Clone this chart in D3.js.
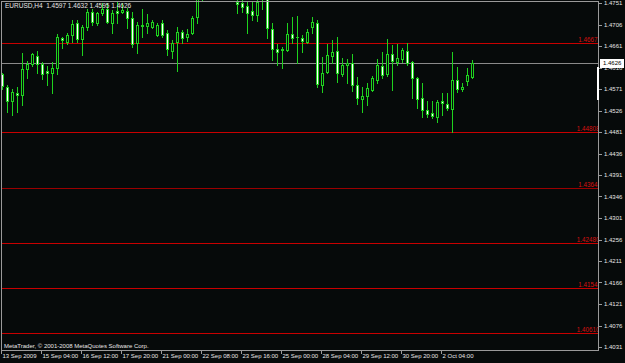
<!DOCTYPE html>
<html>
<head>
<meta charset="utf-8">
<script src="https://cdn.jsdelivr.net/npm/d3@7"></script>
<style>
  html, body { margin: 0; padding: 0; background: #060a0a; }
  svg { display: block; }
</style>
</head>
<body>
<svg id="chart"></svg>
<script>
// EURUSD H4 candles
var opens = [1.4602,1.4575,1.4546,1.4563,1.4559,1.4613,1.4623,1.4640,1.4623,1.4609,
  1.4605,1.4615,1.4678,1.4669,1.4684,1.4709,1.4676,1.4701,1.4732,1.4709,
  1.4730,1.4738,1.4709,1.4734,1.4732,1.4734,1.4720,1.4667,1.4704,1.4703,
  1.4701,1.4684,1.4709,1.4688,1.4651,1.4669,1.4690,1.4680,1.4688,1.4722,
  1.4762,1.4778,1.4789,1.4781,1.4772,1.4784,1.4776,1.4753,1.4751,1.4745,
  1.4734,1.4726,1.4766,1.4762,1.4697,1.4655,1.4655,1.4653,1.4686,1.4680,
  1.4678,1.4669,1.4701,1.4709,1.4579,1.4607,1.4640,1.4651,1.4602,1.4622,
  1.4625,1.4579,1.4550,1.4556,1.4569,1.4590,1.4619,1.4602,1.4644,1.4628,
  1.4634,1.4651,1.4628,1.4594,1.4552,1.4527,1.4521,1.4512,1.4546,1.4540,
  1.4529,1.4590,1.4571,1.4588,1.4597];
var highs = [1.4605,1.4579,1.4571,1.4575,1.4646,1.4630,1.4646,1.4651,1.4628,1.4619,
  1.4628,1.4686,1.4680,1.4688,1.4715,1.4715,1.4705,1.4738,1.4738,1.4732,
  1.4751,1.4751,1.4736,1.4753,1.4751,1.4741,1.4732,1.4711,1.4738,1.4728,
  1.4715,1.4709,1.4715,1.4694,1.4674,1.4701,1.4694,1.4697,1.4724,1.4771,
  1.4785,1.4795,1.4802,1.4790,1.4788,1.4797,1.4783,1.4760,1.4758,1.4753,
  1.4753,1.4760,1.4772,1.4768,1.4709,1.4665,1.4659,1.4709,1.4722,1.4724,
  1.4684,1.4697,1.4722,1.4715,1.4638,1.4665,1.4674,1.4680,1.4636,1.4634,
  1.4644,1.4596,1.4575,1.4584,1.4598,1.4634,1.4648,1.4676,1.4663,1.4665,
  1.4657,1.4667,1.4630,1.4596,1.4584,1.4546,1.4546,1.4548,1.4563,1.4563,
  1.4648,1.4617,1.4584,1.4615,1.4632];
var lows = [1.4571,1.4523,1.4517,1.4523,1.4538,1.4594,1.4619,1.4605,1.4592,1.4579,
  1.4563,1.4602,1.4657,1.4665,1.4669,1.4669,1.4642,1.4694,1.4705,1.4705,
  1.4726,1.4709,1.4688,1.4709,1.4730,1.4699,1.4659,1.4646,1.4680,1.4688,
  1.4699,1.4682,1.4680,1.4642,1.4636,1.4609,1.4667,1.4671,1.4686,1.4709,
  1.4758,1.4770,1.4775,1.4768,1.4765,1.4773,1.4761,1.4730,1.4732,1.4688,
  1.4715,1.4713,1.4738,1.4678,1.4632,1.4621,1.4615,1.4651,1.4667,1.4625,
  1.4648,1.4667,1.4688,1.4575,1.4565,1.4605,1.4625,1.4586,1.4598,1.4584,
  1.4567,1.4540,1.4523,1.4538,1.4567,1.4584,1.4594,1.4598,1.4569,1.4621,
  1.4628,1.4621,1.4552,1.4531,1.4512,1.4512,1.4510,1.4502,1.4517,1.4527,
  1.4481,1.4565,1.4567,1.4579,1.4595];
var closes = [1.4577,1.4546,1.4565,1.4559,1.4613,1.4623,1.4644,1.4623,1.4602,1.4605,
  1.4615,1.4680,1.4674,1.4684,1.4707,1.4676,1.4701,1.4732,1.4711,1.4730,
  1.4738,1.4711,1.4730,1.4730,1.4736,1.4720,1.4665,1.4705,1.4702,1.4709,
  1.4711,1.4705,1.4684,1.4655,1.4667,1.4690,1.4678,1.4686,1.4720,1.4762,
  1.4778,1.4789,1.4781,1.4772,1.4784,1.4776,1.4766,1.4749,1.4743,1.4730,
  1.4726,1.4753,1.4759,1.4699,1.4655,1.4648,1.4653,1.4686,1.4678,1.4679,
  1.4671,1.4690,1.4711,1.4582,1.4605,1.4642,1.4648,1.4605,1.4621,1.4625,
  1.4579,1.4552,1.4556,1.4573,1.4594,1.4621,1.4600,1.4644,1.4630,1.4636,
  1.4653,1.4625,1.4594,1.4550,1.4527,1.4519,1.4514,1.4544,1.4542,1.4531,
  1.4590,1.4571,1.4575,1.4600,1.4626];

var timeTickIndex = [0, 8, 16, 24, 32, 40, 48, 56, 64, 72, 80, 88];
var timeLabels = ["13 Sep 2009", "15 Sep 04:00", "16 Sep 12:00", "17 Sep 20:00",
  "21 Sep 00:00", "22 Sep 08:00", "23 Sep 16:00", "25 Sep 00:00",
  "28 Sep 04:00", "29 Sep 12:00", "30 Sep 20:00", "2 Oct 04:00"];

var priceTicks = [1.4751, 1.4706, 1.4661, 1.4616, 1.4571, 1.4526, 1.4481, 1.4436,
  1.4391, 1.4346, 1.4301, 1.4256, 1.4211, 1.4166, 1.4121, 1.4076, 1.4031];

var levels = [1.4667, 1.44808, 1.4364, 1.4248, 1.4154, 1.4061];
var levelLabels = ["1.4667", "1.44808", "1.4364", "1.42480", "1.4154", "1.40610"];

var symbol = "EURUSD,H4";
var lastPrice = 1.4626;

var width = 625, height = 363;
var bg = "#060a0a", green = "#1ed21e", frame = "#9a9a9a";
var plotRight = 599, plotBottom = 350;

var svg = d3.select("#chart")
    .attr("width", width)
    .attr("height", height)
    .style("font-family", "'Liberation Sans', Arial, sans-serif")
    .attr("shape-rendering", "crispEdges");

svg.append("rect").attr("width", width).attr("height", height).attr("fill", bg);

svg.append("clipPath").attr("id", "plotclip")
  .append("rect").attr("x", 0).attr("y", 0).attr("width", plotRight - 1).attr("height", plotBottom);

var x = d3.scaleLinear().domain([0, 94]).range([2, 472]);
var y = d3.scaleLinear().domain([1.4031, 1.4751]).range([347, 3]);

var plot = svg.append("g").attr("clip-path", "url(#plotclip)");

// horizontal levels
plot.selectAll(".level")
  .data(levels)
  .enter().append("rect")
    .attr("class", "level")
    .attr("x", 1)
    .attr("width", plotRight - 1)
    .attr("y", function(d) { return Math.round(y(d)); })
    .attr("height", 1)
    .attr("fill", function(d, i) { return i == 2 ? "#9a0000" : "#c80000"; });

plot.selectAll(".levelLabel")
  .data(levels)
  .enter().append("text")
    .attr("class", "levelLabel")
    .attr("x", function(d, i) { return levelLabels[i].length > 6 ? 599.5 : 597.5; })
    .attr("y", function(d) { return Math.round(y(d)) - 1.5; })
    .attr("text-anchor", "end")
    .attr("font-size", "6.3px")
    .attr("fill", "#d81010")
    .text(function(d, i) { return levelLabels[i]; });

// bid line
plot.append("rect")
  .attr("x", 1).attr("width", plotRight - 1)
  .attr("y", Math.round(y(lastPrice))).attr("height", 1)
  .attr("fill", "#8a8a8a");

var idx = d3.range(opens.length);

var candle = plot.selectAll(".candle")
  .data(idx)
  .enter().append("g")
    .attr("class", "candle");

candle.append("rect")
  .attr("x", function(i) { return Math.round(x(i)); })
  .attr("width", 1)
  .attr("y", function(i) { return Math.round(y(highs[i])); })
  .attr("height", function(i) { return Math.round(y(lows[i])) - Math.round(y(highs[i])) + 1; })
  .attr("fill", green);

candle.append("rect")
  .attr("x", function(i) { return Math.round(x(i)) - 1; })
  .attr("width", 3)
  .attr("y", function(i) { return Math.round(y(Math.max(opens[i], closes[i]))); })
  .attr("height", function(i) {
    return Math.round(y(Math.min(opens[i], closes[i]))) - Math.round(y(Math.max(opens[i], closes[i]))) + 1;
  })
  .attr("fill", green);

candle.filter(function(i) {
    return Math.round(y(Math.min(opens[i], closes[i]))) - Math.round(y(Math.max(opens[i], closes[i]))) >= 2;
  })
  .append("rect")
    .attr("x", function(i) { return Math.round(x(i)); })
    .attr("width", 1)
    .attr("y", function(i) { return Math.round(y(Math.max(opens[i], closes[i]))) + 1; })
    .attr("height", function(i) {
      return Math.round(y(Math.min(opens[i], closes[i]))) - Math.round(y(Math.max(opens[i], closes[i]))) - 1;
    })
    .attr("fill", function(i) { return closes[i] < opens[i] ? "#ffffff" : bg; });

// frame
svg.append("rect").attr("x", 1).attr("y", 1).attr("width", plotRight - 1).attr("height", 1).attr("fill", frame);
svg.append("rect").attr("x", 1).attr("y", 1).attr("width", 1).attr("height", plotBottom).attr("fill", frame);
svg.append("rect").attr("x", 1).attr("y", plotBottom).attr("width", plotRight - 1).attr("height", 1).attr("fill", frame);
svg.append("rect").attr("x", plotRight - 1).attr("y", 1).attr("width", 1).attr("height", plotBottom).attr("fill", frame);
svg.append("rect").attr("x", plotRight - 2).attr("y", 67).attr("width", 2).attr("height", 33).attr("fill", "#ffffff");

// price axis
var yAxis = svg.append("g");
yAxis.selectAll(".ptick")
  .data(priceTicks)
  .enter().append("rect")
    .attr("x", plotRight)
    .attr("width", 3)
    .attr("y", function(d) { return Math.round(y(d)); })
    .attr("height", 1)
    .attr("fill", frame);
yAxis.selectAll(".plabel")
  .data(priceTicks)
  .enter().append("text")
    .attr("x", 604)
    .attr("y", function(d) { return y(d) + 2.2; })
    .attr("font-size", "6px")
    .attr("fill", "#e6e6e6")
    .text(function(d) { return d.toFixed(4); });

// last price box
svg.append("rect")
  .attr("x", 600).attr("y", Math.round(y(lastPrice)) - 4)
  .attr("width", 24).attr("height", 9)
  .attr("fill", "#ffffff");
svg.append("text")
  .attr("x", 603).attr("y", y(lastPrice) + 2.2)
  .attr("font-size", "6px")
  .attr("fill", "#000000")
  .text(lastPrice.toFixed(4));

// time axis
var xAxis = svg.append("g");
xAxis.selectAll(".ttick")
  .data(timeTickIndex)
  .enter().append("rect")
    .attr("x", function(d) { return Math.round(x(d)) - 1; })
    .attr("y", plotBottom)
    .attr("width", 1)
    .attr("height", 4)
    .attr("fill", frame);
xAxis.selectAll(".tlabel")
  .data(timeTickIndex)
  .enter().append("text")
    .attr("x", function(d) { return Math.round(x(d)) + 0.5; })
    .attr("y", 358)
    .attr("font-size", "6px")
    .attr("fill", "#e6e6e6")
    .text(function(d, i) { return timeLabels[i]; });

// header and footer
svg.append("text")
  .attr("x", 5).attr("y", 8)
  .attr("font-size", "6.5px")
  .attr("fill", "#e6e6e6")
  .attr("xml:space", "preserve")
  .text(symbol + "  " + opens[94].toFixed(4) + " " + highs[94].toFixed(4) + " " + lows[94].toFixed(4) + " " + closes[94].toFixed(4));

svg.append("text")
  .attr("x", 4).attr("y", 348)
  .attr("font-size", "6px")
  .attr("fill", "#e6e6e6")
  .text("MetaTrader, \u00a9 2001-2008 MetaQuotes Software Corp.");
</script>
</body>
</html>
